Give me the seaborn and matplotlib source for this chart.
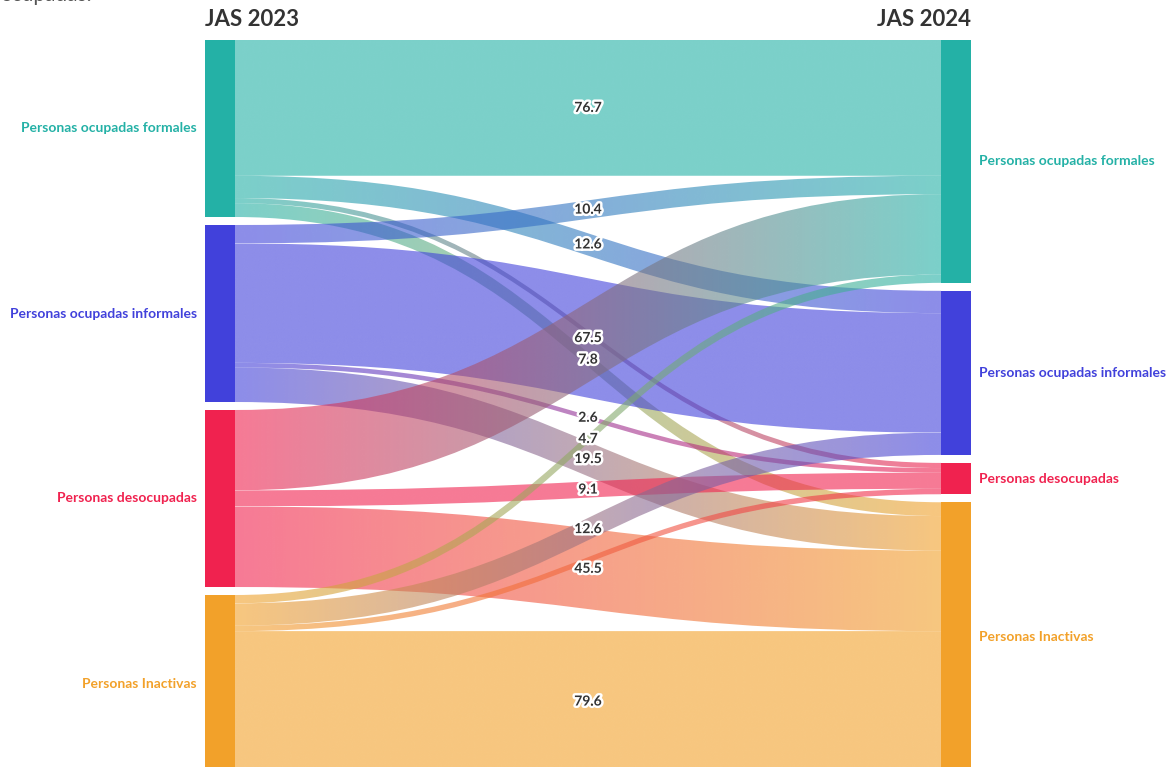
import numpy as np
import matplotlib
matplotlib.use("Agg")
import matplotlib.pyplot as plt
import matplotlib.patheffects as pe
from matplotlib.path import Path
from matplotlib.patches import PathPatch, Rectangle
import seaborn as sns

# condición laboral, mismas categorías en ambos periodos
categorias = [
    "Personas ocupadas formales",
    "Personas ocupadas informales",
    "Personas desocupadas",
    "Personas Inactivas",
]
colores = ["#24B1A6", "#4141DB", "#F0224F", "#F2A12A"]
periodos = ["JAS 2023", "JAS 2024"]

# % de cada grupo de JAS 2023 según su condición en JAS 2024
# (orden de columnas = orden de categorias)
de_formales = [76.7, 12.6, 2.9, 7.8]
de_informales = [10.4, 67.5, 2.6, 19.5]
de_desocupadas = [45.4, 0.0, 9.1, 45.5]
de_inactivas = [4.7, 12.6, 3.1, 79.6]

# parámetros de diseño (en píxeles de la figura)
ANCHO_FIG, ALTO_FIG = 1170, 767
TOPE = 40
SEPARACION = 8
ESCALA = 1.77          # px por punto porcentual
X_IZQ, X_DER, ANCHO_NODO = 205, 941, 30
ALFA = 0.6


def posiciones_nodos(totales):
    tops = []
    y = TOPE
    for t in totales:
        tops.append(y)
        y += t * ESCALA + SEPARACION
    return tops


def trazo_enlace(x0, x1, y0a, y0b, y1a, y1b):
    xm = (x0 + x1) / 2
    verts = [
        (x0, y0a), (xm, y0a), (xm, y1a), (x1, y1a),
        (x1, y1b),
        (xm, y1b), (xm, y0b), (x0, y0b),
        (x0, y0a),
    ]
    codes = [Path.MOVETO, Path.CURVE4, Path.CURVE4, Path.CURVE4,
             Path.LINETO,
             Path.CURVE4, Path.CURVE4, Path.CURVE4,
             Path.CLOSEPOLY]
    return Path(verts, codes)


flujos = np.array([de_formales, de_informales, de_desocupadas, de_inactivas])
n = len(categorias)

sns.set_theme(style="white")
plt.rcParams["font.family"] = ["Lato", "DejaVu Sans"]

fig = plt.figure(figsize=(ANCHO_FIG / 100, ALTO_FIG / 100), dpi=100)
ax = fig.add_axes([0, 0, 1, 1])
ax.set_xlim(0, ANCHO_FIG)
ax.set_ylim(ALTO_FIG, 0)
ax.axis("off")

tops_izq = posiciones_nodos(flujos.sum(axis=1))
tops_der = posiciones_nodos(flujos.sum(axis=0))

x0 = X_IZQ + ANCHO_NODO
x1 = X_DER
etiquetas = []

for i in range(n):
    for j in range(n):
        valor = flujos[i, j]
        if valor <= 0:
            continue
        y0a = tops_izq[i] + flujos[i, :j].sum() * ESCALA
        y0b = y0a + valor * ESCALA
        y1a = tops_der[j] + flujos[:i, j].sum() * ESCALA
        y1b = y1a + valor * ESCALA

        trazo = trazo_enlace(x0, x1, y0a, y0b, y1a, y1b)
        parche = PathPatch(trazo, facecolor="none", edgecolor="none")
        ax.add_patch(parche)

        degradado = sns.blend_palette([colores[i], colores[j]], n_colors=200)
        img = np.array([[(*c, ALFA) for c in degradado]])
        im = ax.imshow(img, extent=[x0, x1, max(y0b, y1b), min(y0a, y1a)],
                       aspect="auto", interpolation="bilinear", zorder=2)
        im.set_clip_path(parche)

        etiquetas.append((valor, (y0a + y0b + y1a + y1b) / 4))

# nodos
for i in range(n):
    alto_i = flujos[i].sum() * ESCALA
    ax.add_patch(Rectangle((X_IZQ, tops_izq[i]), ANCHO_NODO, alto_i,
                           facecolor=colores[i], edgecolor="none", zorder=3))
    ax.text(X_IZQ - 8, tops_izq[i] + alto_i / 2, categorias[i], ha="right",
            va="center", color=colores[i], fontsize=10, fontweight="bold")

    alto_j = flujos[:, i].sum() * ESCALA
    ax.add_patch(Rectangle((X_DER, tops_der[i]), ANCHO_NODO, alto_j,
                           facecolor=colores[i], edgecolor="none", zorder=3))
    ax.text(X_DER + ANCHO_NODO + 8, tops_der[i] + alto_j / 2, categorias[i],
            ha="left", va="center", color=colores[i], fontsize=10,
            fontweight="bold")

# etiquetas de flujos: se ocultan las que se enciman (prioridad a las mayores)
colocadas = []
for valor, y in sorted(etiquetas, key=lambda e: -e[0]):
    if any(abs(y - yc) < 16 for yc in colocadas):
        continue
    colocadas.append(y)
    ax.text((x0 + x1) / 2, y, f"{valor:.1f}", ha="center", va="center",
            fontsize=10, fontweight="bold", color="#333333", zorder=5,
            path_effects=[pe.withStroke(linewidth=3.5, foreground="white")])

# encabezados de periodo
ax.text(X_IZQ, 20, periodos[0], ha="left", va="center", fontsize=16,
        fontweight="bold", color="#333333")
ax.text(X_DER + ANCHO_NODO, 20, periodos[1], ha="right", va="center",
        fontsize=16, fontweight="bold", color="#333333")

# resto del texto introductorio, cortado en el borde superior
ax.text(0, 1, "ocupadas.", ha="left", va="baseline", fontsize=15,
        color="#555555")

fig.savefig("out.png", dpi=100)
